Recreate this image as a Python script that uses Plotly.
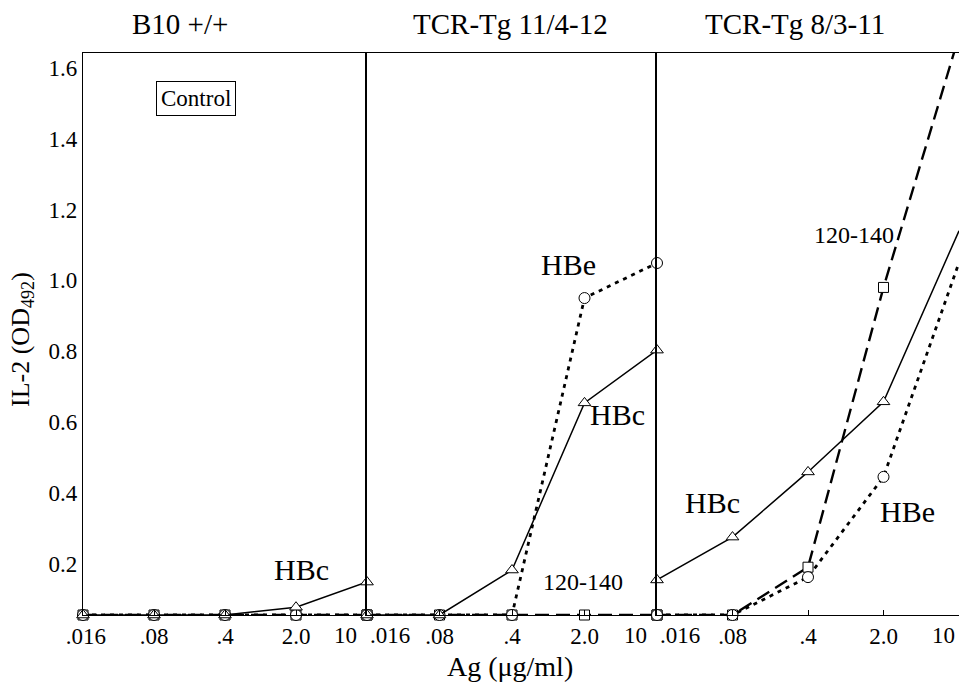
import plotly.graph_objects as go

# ---------------- data ----------------
doses = [".016", ".08", ".4", "2.0", "10"]
panels = ["B10 +/+", "TCR-Tg 11/4-12", "TCR-Tg 8/3-11"]
base = 0.055

# B10 +/+
b10_hbc = [base, base, base, 0.077, 0.148]
b10_hbe = [base, base, base, base, base]
b10_pep = [base, base, base, base, base]
# TCR-Tg 11/4-12
tg1_hbc = [base, base, 0.182, 0.654, 0.803]
tg1_hbe = [base, base, base, 0.95, 1.049]
tg1_pep = [base, base, base, base, base]
# TCR-Tg 8/3-11
tg2_hbc = [0.154, 0.275, 0.459, 0.657, 1.14]
tg2_hbe = [base, base, 0.162, 0.445, 1.05]
tg2_pep = [base, base, 0.19, 0.98, 1.69]

yticks = [0.2, 0.4, 0.6, 0.8, 1.0, 1.2, 1.4, 1.6]

# ---------------- layout geometry ----------------
W, H = 959, 689
L, R, T, B = 83, 959, 53, 615
PW, PH = R - L, B - T
xpos = list(range(len(doses)))
FONT = "Liberation Serif, Times New Roman, serif"

def px(x):
    return (x - L) / PW

def py(y):
    return (B - y) / PH

domains = [[0, px(367)], [px(367), px(657)], [px(657), 1.0]]

fig = go.Figure()

series = [
    (b10_hbc, b10_hbe, b10_pep),
    (tg1_hbc, tg1_hbe, tg1_pep),
    (tg2_hbc, tg2_hbe, tg2_pep),
]

for i, (hbc, hbe, pep) in enumerate(series):
    xa = "x" if i == 0 else f"x{i+1}"
    ya = "y" if i == 0 else f"y{i+1}"
    op = [1, 1, 1, 1, 0] if i == 2 else [1] * 5
    fig.add_trace(go.Scatter(
        x=xpos, y=pep, xaxis=xa, yaxis=ya, mode="lines+markers",
        line=dict(color="black", width=2.4, dash="14px,7px"),
        marker=dict(symbol="square", size=10, color="white", opacity=op,
                    line=dict(color="black", width=1)),
        cliponaxis=False, showlegend=False, hoverinfo="skip"))
    fig.add_trace(go.Scatter(
        x=xpos, y=hbe, xaxis=xa, yaxis=ya, mode="lines+markers",
        line=dict(color="black", width=2.8, dash="4px,5px"),
        marker=dict(symbol="circle", size=11, color="white", opacity=op,
                    line=dict(color="black", width=1)),
        cliponaxis=False, showlegend=False, hoverinfo="skip"))
    fig.add_trace(go.Scatter(
        x=xpos, y=hbc, xaxis=xa, yaxis=ya, mode="lines+markers",
        line=dict(color="black", width=1.5),
        marker=dict(symbol="triangle-up", size=11, color="white", opacity=op,
                    line=dict(color="black", width=1)),
        cliponaxis=False, showlegend=False, hoverinfo="skip"))

# labels at the shared panel boundaries ("10 .016") are annotations
tick_idx = [[0, 1, 2, 3], [1, 2, 3], [1, 2, 3]]
xranges = [[0, 4], [0, 4], [0, 4]]
yr = [base, 1.642]

layout = dict(
    width=W, height=H,
    margin=dict(l=L, r=W - R, t=T, b=H - B),
    paper_bgcolor="white", plot_bgcolor="white",
    font=dict(family=FONT, size=23, color="black"),
)
for i in range(3):
    k = "" if i == 0 else str(i + 1)
    tv = [xpos[j] for j in tick_idx[i]]
    tt = [doses[j] for j in tick_idx[i]]
    if i == 0:
        tt[0] = "\u00a0" + tt[0]
    layout["xaxis" + k] = dict(
        domain=domains[i], range=xranges[i], anchor="y" + k,
        tickmode="array", tickvals=tv, ticktext=tt,
        ticks="inside", ticklen=5, tickcolor="black",
        showline=True, linecolor="black", linewidth=1.2, mirror=True,
        showgrid=False, zeroline=False,
        tickfont=dict(family=FONT, size=23, color="black"))
    layout["yaxis" + k] = dict(
        range=yr, anchor="x" + k,
        tickmode="array", tickvals=yticks,
        ticktext=[f"{v:.1f}" for v in yticks],
        showticklabels=(i == 0), ticks="",
        showline=True, linecolor="black", linewidth=1.5 if i else 1.2,
        showgrid=False, zeroline=False, ticklabelstandoff=0,
        tickfont=dict(family=FONT, size=23, color="black"))
    if i:
        layout["yaxis" + k]["matches"] = "y"
fig.update_layout(**layout)

ann = []
def txt(t, x, y, size, xanchor="center", **kw):
    ann.append(dict(text=t, x=px(x), y=py(y), xref="paper", yref="paper",
                    showarrow=False, xanchor=xanchor, yanchor="middle",
                    font=dict(family=FONT, size=size, color="black"), **kw))

# boundary tick labels
txt(doses[4], 359, 635, 23, xanchor="right")
txt(doses[0], 368, 635, 23, xanchor="left")
txt(doses[4], 649, 635, 23, xanchor="right")
txt(doses[0], 658, 635, 23, xanchor="left")
txt(doses[4], 957, 635, 23, xanchor="right")

txt(panels[0], 180, 24, 29)
txt(panels[1], 510, 24, 29)
txt(panels[2], 795, 24, 29)
txt("Control", 196, 98, 23, bordercolor="black", borderwidth=1, borderpad=4,
    bgcolor="white")
txt("HBc", 301, 569, 30)
txt("HBe", 568, 264, 30)
txt("HBc", 617, 414, 30)
txt("120-140", 583, 582, 24)
txt("HBc", 712, 502, 30)
txt("HBe", 907, 511, 30)
txt("120-140", 854, 235, 24)
txt("Ag (\u03bcg/ml)", 510, 666, 28)
ann.append(dict(text="IL-2 (OD<sub>492</sub>)", x=px(22), y=py(340),
                xref="paper", yref="paper", showarrow=False, textangle=-90,
                xanchor="center", yanchor="middle",
                font=dict(family=FONT, size=26, color="black")))
fig.update_layout(annotations=ann)

post = ("document.body.style.margin='0';"
        "document.body.style.overflow='hidden';"
        "var gd=document.getElementById('{plot_id}');"
        "Plotly.relayout(gd,{width:959,height:689});")
fig.write_html("out.html", post_script=post,
               config={"displayModeBar": False})
